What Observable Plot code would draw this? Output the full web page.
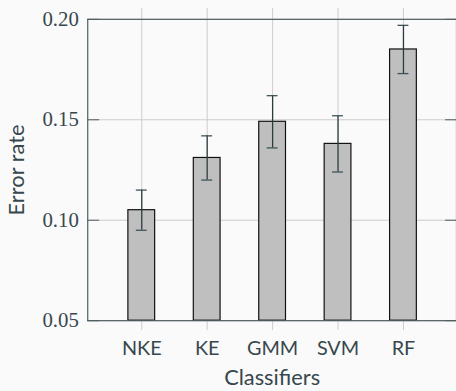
<!DOCTYPE html>
<html>
<head>
<meta charset="utf-8">
<script src="https://cdn.jsdelivr.net/npm/d3@7"></script>
<script src="https://cdn.jsdelivr.net/npm/@observablehq/plot@0.6"></script>
<style>
  html, body { margin: 0; padding: 0; background: #fafafa; overflow: hidden; }
  #wrap { width: 456px; height: 391px; overflow: hidden; }
</style>
</head>
<body>
<div id="wrap"></div>
<script>
const categories = ["NKE", "KE", "GMM", "SVM", "RF"];
const errorRate = [0.105, 0.131, 0.149, 0.138, 0.185];
const errorHalf = [0.010, 0.011, 0.013, 0.014, 0.012];
const yTicks = [0.05, 0.10, 0.15, 0.20];
const yDomain = [0.05, 0.20];
const xLabel = "Classifiers";
const yLabel = "Error rate";

const data = categories.map((c, i) => ({
  cat: c,
  val: errorRate[i],
  lo: errorRate[i] - errorHalf[i],
  hi: errorRate[i] + errorHalf[i],
  base: yDomain[0]
}));

const frameColor = "#4f5d61";
const textColor = "#37474d";
const gridColor = "#cccccc";

const chart = Plot.plot({
  width: 460,
  height: 391,
  marginLeft: 88,
  marginRight: 0,
  marginTop: 19,
  marginBottom: 68,
  style: { background: "#fafafa", fontFamily: "Lato", overflow: "visible" },
  x: { domain: categories, paddingInner: 0.594, paddingOuter: 0.594, axis: null },
  y: { domain: yDomain, axis: null },
  marks: [
    Plot.gridX(categories, { stroke: gridColor, strokeOpacity: 1, strokeWidth: 1 }),
    Plot.gridY(yTicks, { stroke: gridColor, strokeOpacity: 1, strokeWidth: 1 }),
    Plot.axisX({ anchor: "top", tickSize: 12, tickFormat: () => "", stroke: gridColor, label: null }),
    Plot.axisX({ anchor: "bottom", tickSize: 10, tickFormat: () => "", stroke: gridColor, label: null }),
    Plot.axisX({ anchor: "bottom", tickSize: 0, tickPadding: 20, fontSize: 20, fontFamily: "Lato", fill: textColor, label: null }),
    Plot.axisY({ anchor: "left", ticks: yTicks, tickSize: 12, dx: 12, tickFormat: () => "", stroke: frameColor, label: null }),
    Plot.axisY({ anchor: "right", ticks: yTicks, tickSize: 12, dx: -12, tickFormat: () => "", stroke: frameColor, label: null }),
    Plot.axisY({ anchor: "left", ticks: yTicks, tickSize: 0, tickPadding: 9, tickFormat: d3.format(".2f"), fontSize: 21, fontFamily: "Liberation Serif", fill: textColor, label: null }),
    Plot.barY(data, { x: "cat", y1: "base", y2: "val", fill: "#bfbfbf", stroke: "#111", strokeWidth: 1.2 }),
    Plot.ruleX(data, { x: "cat", y1: "lo", y2: "hi", stroke: "#2d3a3e", strokeWidth: 1.3 }),
    Plot.tickY(data, { x: "cat", y: "lo", stroke: "#3d5257", strokeWidth: 1.3, inset: 8 }),
    Plot.tickY(data, { x: "cat", y: "hi", stroke: "#3d5257", strokeWidth: 1.3, inset: 8 }),
    Plot.frame({ stroke: frameColor, strokeWidth: 1.2 }),
    Plot.text([xLabel], { frameAnchor: "bottom", dy: 58, lineAnchor: "middle", textAnchor: "middle", fontSize: 22, fontFamily: "Lato", fill: textColor }),
    Plot.text([yLabel], { frameAnchor: "left", dx: -71, rotate: -90, lineAnchor: "middle", textAnchor: "middle", fontSize: 22, fontFamily: "Lato", fill: textColor })
  ]
});

document.getElementById("wrap").appendChild(chart);
</script>
</body>
</html>
